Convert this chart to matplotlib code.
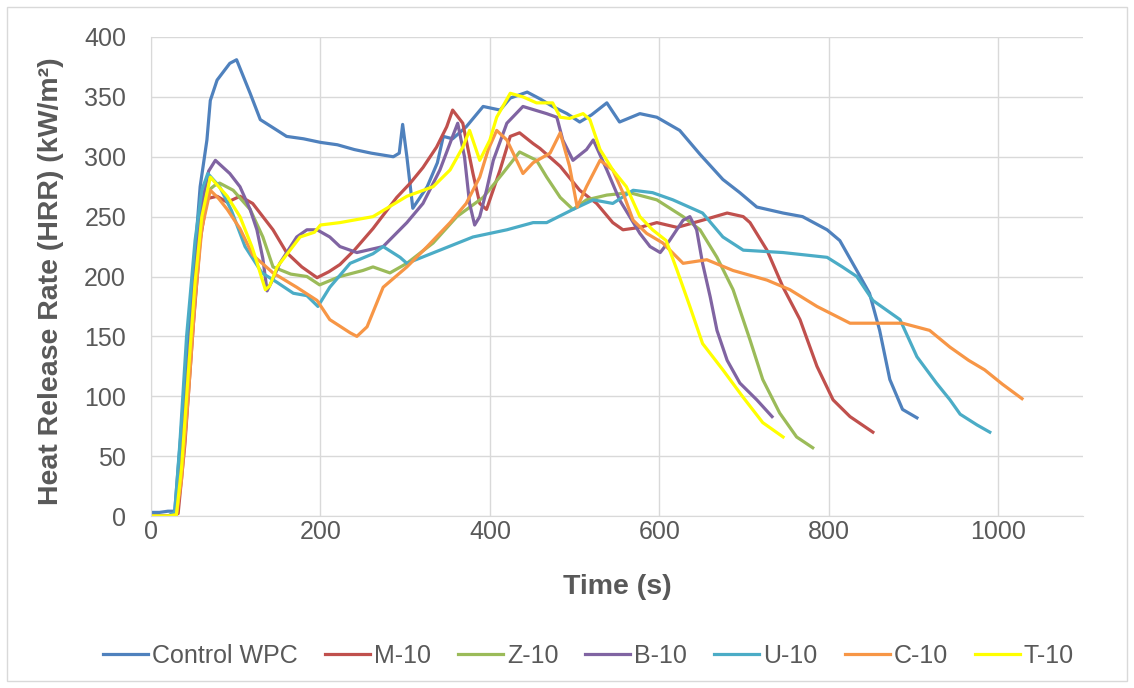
import matplotlib
matplotlib.use("Agg")
import matplotlib.pyplot as plt
from matplotlib.patches import Rectangle

plt.rcParams['font.family'] = ['Liberation Sans', 'DejaVu Sans']

# Heat release rate curves (time in s, HRR in kW/m2)
wpc_t = [0, 10, 20, 28, 36, 44, 52, 58, 66, 70, 78, 93, 101, 109, 117, 129, 149, 160, 180,
         200, 220, 240, 260, 286, 293, 297, 302, 309, 326, 338, 345, 356, 372, 392, 412, 424, 444,
         460, 474, 491, 506, 520, 538, 553, 577, 597, 624, 648, 675, 695, 715, 746, 769, 798, 813,
         833, 848, 860, 872, 887, 904]
wpc_v = [3, 3, 4, 4, 75, 147, 220, 275, 314, 347, 364, 378, 381, 367, 353, 331, 322, 317, 315,
         312, 310, 306, 303, 300, 303, 327, 300, 257, 275, 295, 317, 315, 325, 342, 339, 349, 354,
         348, 342, 336, 329, 335, 345, 329, 336, 333, 322, 302, 281, 270, 258, 253, 250, 239, 230,
         205, 186, 155, 114, 89, 82]

m10_t = [0, 20, 32, 40, 50, 58, 66, 78, 90, 105, 120, 132, 144, 160, 178, 196, 210, 223, 240, 262,
         290, 306, 321, 337, 349, 356, 368, 380, 388, 396, 412, 424, 435, 451, 459, 483, 506, 526,
         545, 557, 577, 597, 621, 651, 680, 699, 707, 727, 746, 766, 786, 805, 825, 852]
m10_v = [0, 0, 2, 60, 160, 230, 265, 267, 262, 267, 261, 250, 239, 220, 208, 199, 204, 210, 222, 240,
         266, 278, 291, 308, 325, 339, 328, 286, 261, 256, 289, 317, 320, 311, 307, 292, 272, 261,
         245, 239, 241, 245, 241, 247, 253, 250, 245, 222, 191, 164, 125, 97, 83, 70]

z10_t = [0, 20, 30, 36, 44, 52, 60, 68, 75, 81, 97, 117, 132, 144, 165, 184, 199, 223, 250, 262,
         282, 302, 333, 361, 392, 415, 435, 455, 467, 483, 498, 514, 538, 565, 597, 628, 648, 668,
         687, 707, 722, 742, 762, 781]
z10_v = [0, 0, 2, 45, 120, 195, 250, 272, 276, 278, 272, 256, 233, 208, 202, 200, 193, 200, 205, 208,
         203, 211, 228, 250, 266, 286, 304, 297, 283, 266, 256, 264, 268, 270, 264, 250, 239, 216,
         189, 147, 114, 86, 66, 57]

b10_t = [0, 20, 30, 36, 44, 52, 60, 68, 76, 93, 105, 117, 125, 132, 137, 142, 152, 172, 184, 196,
         211, 223, 243, 274, 302, 321, 341, 356, 362, 370, 376, 382, 388, 396, 404, 420, 439, 467,
         479, 486, 498, 514, 522, 538, 553, 577, 589, 601, 612, 628, 636, 644, 651, 660, 668, 680,
         695, 715, 733]
b10_v = [0, 0, 2, 45, 120, 200, 260, 288, 297, 286, 275, 256, 239, 215, 188, 195, 211, 233, 239, 239,
         233, 225, 220, 225, 245, 261, 289, 317, 328, 300, 261, 243, 250, 272, 297, 328, 342, 336,
         333, 314, 297, 306, 314, 289, 264, 236, 225, 220, 230, 247, 250, 239, 211, 183, 155, 130,
         111, 97, 83]

u10_t = [0, 20, 28, 34, 42, 52, 60, 67, 81, 95, 111, 131, 149, 168, 184, 197, 211, 235, 262, 274,
         294, 302, 341, 380, 420, 451, 467, 498, 522, 545, 569, 592, 616, 651, 675, 699, 746, 798,
         816, 833, 852, 884, 904, 927, 943, 955, 975, 990]
u10_v = [0, 0, 3, 60, 150, 230, 272, 286, 275, 255, 225, 203, 195, 186, 184, 175, 191, 211, 219, 225,
         216, 211, 222, 233, 239, 245, 245, 256, 264, 261, 272, 270, 264, 253, 233, 222, 220, 216,
         208, 200, 180, 164, 133, 111, 97, 85, 76, 70]

c10_t = [0, 20, 30, 36, 44, 52, 60, 70, 80, 90, 105, 120, 144, 172, 196, 211, 235, 243, 255, 274,
         302, 326, 353, 372, 388, 398, 408, 420, 439, 451, 471, 483, 494, 503, 514, 530, 545, 557,
         569, 585, 604, 628, 656, 687, 727, 754, 786, 825, 864, 887, 919, 943, 965, 984, 1005, 1028]
c10_v = [0, 0, 1, 30, 100, 180, 240, 272, 265, 256, 240, 218, 203, 191, 180, 164, 153, 150, 158, 191,
         208, 225, 245, 261, 283, 306, 322, 314, 286, 295, 303, 320, 292, 258, 275, 297, 289, 270,
         247, 236, 228, 211, 214, 205, 197, 189, 175, 161, 161, 161, 155, 141, 130, 122, 110, 98]

t10_t = [0, 20, 30, 36, 44, 52, 60, 70, 90, 105, 119, 125, 131, 135, 140, 149, 176, 193, 200, 223,
         262, 302, 333, 353, 368, 376, 388, 400, 408, 424, 439, 455, 474, 483, 494, 510, 518, 530,
         545, 561, 577, 592, 608, 621, 636, 651, 675, 699, 722, 746]
t10_v = [0, 0, 1, 40, 119, 195, 250, 283, 267, 250, 225, 212, 198, 189, 192, 208, 233, 237, 243, 245,
         250, 267, 275, 289, 308, 322, 297, 314, 333, 353, 350, 345, 345, 333, 332, 336, 331, 306,
         289, 275, 250, 239, 230, 205, 175, 144, 122, 99, 78, 66]

series = [
    ('Control WPC', wpc_t, wpc_v, '#4F81BD'),
    ('M-10', m10_t, m10_v, '#C0504D'),
    ('Z-10', z10_t, z10_v, '#9BBB59'),
    ('B-10', b10_t, b10_v, '#8064A2'),
    ('U-10', u10_t, u10_v, '#4BACC6'),
    ('C-10', c10_t, c10_v, '#F79646'),
    ('T-10', t10_t, t10_v, '#FFFF00'),
]

fig = plt.figure(figsize=(11.34, 6.88), dpi=100)
ax = fig.add_axes([151 / 1134, 172 / 688, 932 / 1134, 479 / 688])

for name, t, v, c in series:
    ax.plot(t, v, color=c, linewidth=2.3, label=name)

ax.set_xlim(0, 1100)
ax.set_ylim(0, 400)
ax.set_xticks(range(0, 1001, 200))
ax.set_yticks(range(0, 401, 50))
ax.grid(True, color='#D9D9D9', linewidth=1)
ax.set_axisbelow(True)
for s in ['top', 'right']:
    ax.spines[s].set_visible(False)
for s in ['left', 'bottom']:
    ax.spines[s].set_color('#D9D9D9')
ax.tick_params(length=0, labelsize=18, labelcolor='#595959')
ax.tick_params(axis='y', pad=18)
ax.tick_params(axis='x', pad=3)

ax.set_xlabel('Time (s)', fontsize=20.5, fontweight='bold', color='#595959')
ax.xaxis.set_label_coords(0.5, -0.122)
ax.set_ylabel('Heat Release Rate (HRR) (kW/m²)', fontsize=20.5, fontweight='bold', color='#595959')
ax.yaxis.set_label_coords(-0.093, 0.49)

fig.legend(loc='center', bbox_to_anchor=(0.519, 0.047), ncol=7, frameon=False,
           fontsize=18, handlelength=1.8, handletextpad=0.16, columnspacing=1.08,
           labelcolor='#595959')

fig.patches.append(Rectangle((7 / 1134, 7 / 688), 1120 / 1134, 674 / 688, transform=fig.transFigure,
                             fill=False, edgecolor='#D9D9D9', linewidth=1))

fig.savefig('out.png', dpi=100)
